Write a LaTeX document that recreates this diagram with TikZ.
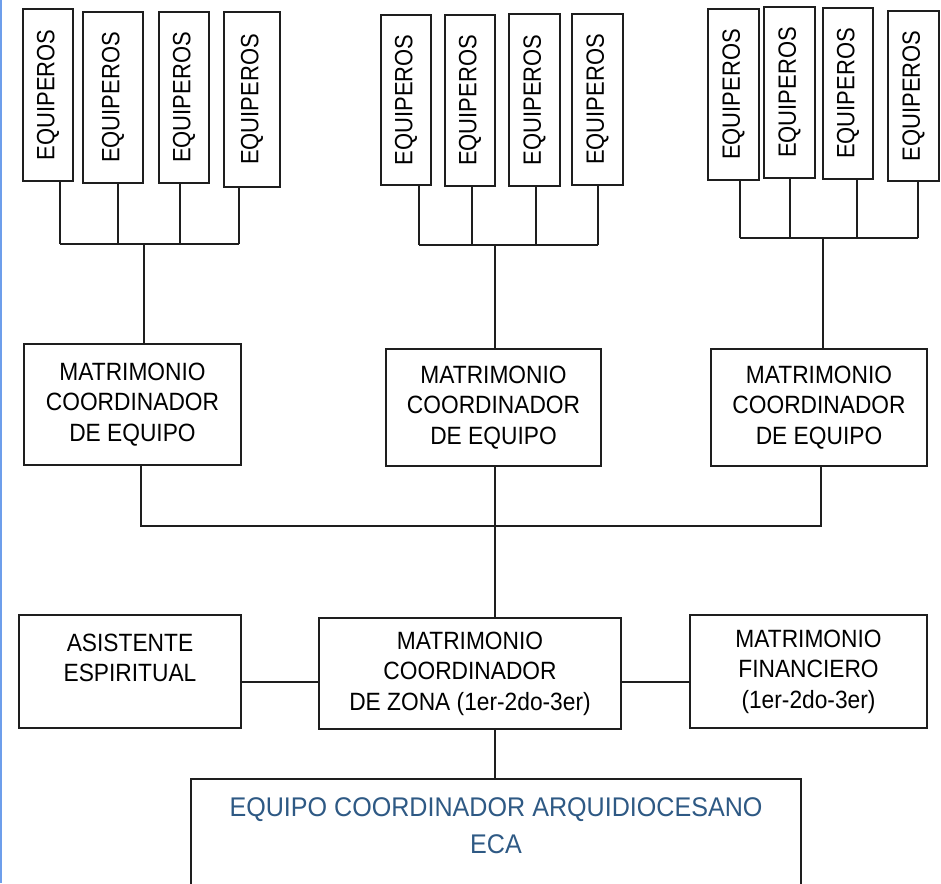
\documentclass[tikz,border=0pt]{standalone}
\usepackage{fontspec}
\setmainfont{Liberation Sans}[FakeStretch=0.91]
\newfontfamily\eqfont{Liberation Sans}[FakeStretch=0.88]
\newfontfamily\ecafont{Liberation Sans}[FakeStretch=0.93]
\definecolor{ecablue}{RGB}{46,89,132}
\definecolor{edgeblue}{RGB}{109,158,235}
\definecolor{ink}{RGB}{30,30,30}
\newcommand\eqb[5]{\node[eqbox, minimum width={(#3-#2)*1pt}, minimum height={(#5-#4)*1pt}] (#1) at ({(#2+#3)/2},{(#4+#5)/2}) {\rotatebox{90}{EQUIPEROS}};}
\newcommand\rbox[6]{\node[box, minimum width={(#3-#2)*1pt}, minimum height={(#5-#4)*1pt}] (#1) at ({(#2+#3)/2},{(#4+#5)/2}) {#6};}
\begin{document}
\begin{tikzpicture}[x=1pt,y=-1pt,
  box/.style={draw=ink, line width=1.6pt, inner sep=0pt, outer sep=0pt, align=center, font=\fontsize{25}{30.5}\selectfont},
  eqbox/.style={draw=ink, line width=1.6pt, inner sep=0pt, outer sep=0pt, font=\eqfont\fontsize{25}{30}\selectfont},
  ecatxt/.style={inner sep=0pt, align=center, text=ecablue, font=\ecafont\fontsize{27}{37}\selectfont},
  link/.style={draw=ink, line width=1.3pt}]
\useasboundingbox (0,0) rectangle (941,883);
\draw[edgeblue, line width=1.5pt] (0.75,0) -- (0.75,883);

% EQUIPEROS boxes
\eqb{L1}{23}{73}{9}{181}
\eqb{L2}{83}{143}{12}{183}
\eqb{L3}{159}{209}{12}{183}
\eqb{L4}{224}{280}{12}{187}
\eqb{M1}{381}{431}{15}{185}
\eqb{M2}{445}{495}{15}{186}
\eqb{M3}{509}{560}{14}{186}
\eqb{M4}{572}{623}{14}{185}
\eqb{R1}{708}{759}{9}{180}
\eqb{R2}{764}{815}{7}{178}
\eqb{R3}{823}{873}{8}{179}
\eqb{R4}{888}{939}{11}{181}

% coordinator boxes
\rbox{CL}{24}{241}{344}{465}{MATRIMONIO\\COORDINADOR\\DE EQUIPO}
\rbox{CM}{386}{601}{349}{466}{MATRIMONIO\\COORDINADOR\\DE EQUIPO}
\rbox{CR}{711}{927}{349}{466}{MATRIMONIO\\COORDINADOR\\DE EQUIPO}

% zone row
\rbox{ASIS}{19}{241}{615}{728}{}
\node[box, draw=none] (asistxt) at (130,658) {ASISTENTE\\ESPIRITUAL};
\rbox{ZONA}{319}{621}{618}{729}{MATRIMONIO\\COORDINADOR\\DE ZONA (1er-2do-3er)}
\rbox{FIN}{690}{927}{615}{728}{MATRIMONIO\\FINANCIERO\\(1er-2do-3er)}

% ECA
\rbox{ECA}{191}{801}{779}{905}{}
\node[ecatxt, anchor=north] (ecat) at (496,797.5) {EQUIPO COORDINADOR ARQUIDIOCESANO\\ECA};

% junction coordinates
\coordinate (la) at (60,244);  \coordinate (lb) at (118,244);
\coordinate (lc) at (180,244); \coordinate (ld) at (239,244);
\coordinate (lt) at (144,244);
\coordinate (ma) at (419,245); \coordinate (mb) at (472,245);
\coordinate (mc) at (536,245); \coordinate (md) at (598,245);
\coordinate (mt) at (495,245);
\coordinate (ra) at (740,238); \coordinate (rb) at (790,238);
\coordinate (rc) at (857,238); \coordinate (rd) at (918,238);
\coordinate (rt) at (823,238);
\coordinate (jl) at (141,526); \coordinate (jm) at (495,526); \coordinate (jr) at (821,526);
\coordinate (hz) at (470,682);

% left group
\draw[link] (la |- L1.south) -- (la);
\draw[link] (lb |- L2.south) -- (lb);
\draw[link] (lc |- L3.south) -- (lc);
\draw[link] (ld |- L4.south) -- (ld);
\draw[link] (la) -- (ld);
\draw[link] (lt) -- (lt |- CL.north);
% middle group
\draw[link] (ma |- M1.south) -- (ma);
\draw[link] (mb |- M2.south) -- (mb);
\draw[link] (mc |- M3.south) -- (mc);
\draw[link] (md |- M4.south) -- (md);
\draw[link] (ma) -- (md);
\draw[link] (mt) -- (mt |- CM.north);
% right group
\draw[link] (ra |- R1.south) -- (ra);
\draw[link] (rb |- R2.south) -- (rb);
\draw[link] (rc |- R3.south) -- (rc);
\draw[link] (rd |- R4.south) -- (rd);
\draw[link] (ra) -- (rd);
\draw[link] (rt) -- (rt |- CR.north);
% coordinators to zone
\draw[link] (jl |- CL.south) -- (jl) -- (jr) -- (jr |- CR.south);
\draw[link] (jm |- CM.south) -- (jm |- ZONA.north);
% zone row
\draw[link] (ASIS.east |- hz) -- (ZONA.west |- hz);
\draw[link] (ZONA.east |- hz) -- (FIN.west |- hz);
\draw[link] (jm |- ZONA.south) -- (jm |- ECA.north);
\end{tikzpicture}
\end{document}
